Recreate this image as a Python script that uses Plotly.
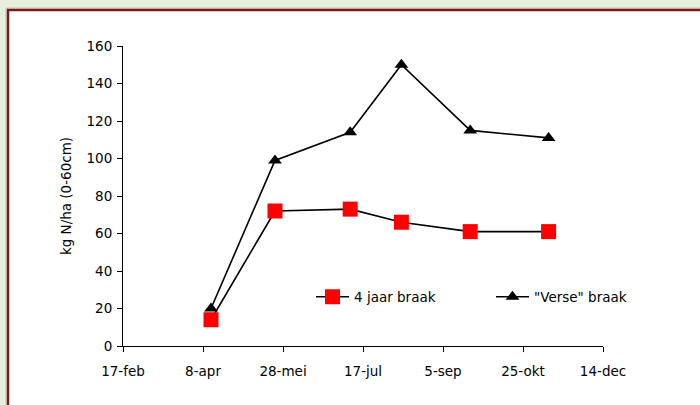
import plotly.graph_objects as go

# Sampling dates (one season) and mineral N in the 0-60 cm layer
sample_dates = ["2001-04-13", "2001-05-23", "2001-07-09", "2001-08-10", "2001-09-22", "2001-11-10"]
n_four_year = [14, 72, 73, 66, 61, 61]
n_fresh = [20, 99, 114, 150, 115, 111]

series_names = ["4 jaar braak", "\"Verse\" braak"]

tick_dates = ["2001-02-17", "2001-04-08", "2001-05-28", "2001-07-17",
              "2001-09-05", "2001-10-25", "2001-12-14"]
tick_labels = ["17-feb", "8-apr", "28-mei", "17-jul", "5-sep", "25-okt", "14-dec"]

FONT = dict(family="DejaVu Sans", size=13.5, color="#000000")

fig = go.Figure()
fig.add_trace(go.Scatter(
    x=sample_dates, y=n_four_year, name=series_names[0], mode="lines+markers",
    line=dict(color="#000000", width=1.6),
    marker=dict(symbol="square", size=15, color="#ff0000", line=dict(width=0)),
))
fig.add_trace(go.Scatter(
    x=sample_dates, y=n_fresh, name=series_names[1], mode="lines+markers",
    line=dict(color="#000000", width=1.6),
    marker=dict(symbol="triangle-up", size=12, color="#000000", line=dict(width=0)),
))

# plot area spans 123..603 px horizontally, 46..346 px vertically
W, H = 700, 405
L, R, T, B = 123, 97, 46, 59
PW, PH = W - L - R, H - T - B


def px_x(p):
    return (p - L) / PW


def px_y(p):
    return (T + PH - p) / PH


fig.add_shape(type="rect", xref="paper", yref="paper",
              x0=px_x(6), x1=px_x(720), y0=px_y(8), y1=px_y(430),
              line=dict(color="#c8c0b8", width=1), fillcolor="rgba(0,0,0,0)", layer="below")
fig.add_shape(type="rect", xref="paper", yref="paper",
              x0=px_x(8), x1=px_x(720), y0=px_y(10), y1=px_y(430),
              line=dict(color="#7a1a1a", width=2.5), fillcolor="#ffffff", layer="below")

fig.update_layout(
    width=W, height=H,
    margin=dict(l=L, r=R, t=T, b=B, pad=0, autoexpand=False),
    paper_bgcolor="#e6f0dc",
    plot_bgcolor="rgba(0,0,0,0)",
    font=FONT,
    showlegend=True,
    legend=dict(
        orientation="h", xref="container", yref="container",
        x=311 / W, xanchor="left", y=(H - 297) / H, yanchor="middle",
        bgcolor="rgba(0,0,0,0)", font=FONT, entrywidth=132, entrywidthmode="pixels",
        itemwidth=33, traceorder="normal",
    ),
    xaxis=dict(
        type="date", range=[tick_dates[0], tick_dates[-1]],
        tickmode="array", tickvals=tick_dates, ticktext=tick_labels,
        showgrid=False, zeroline=False, showline=True, linecolor="#000000", linewidth=1,
        ticks="outside", ticklen=5, tickcolor="#000000", tickwidth=1,
        tickfont=FONT, ticklabelstandoff=8,
    ),
    yaxis=dict(
        range=[0, 160], tickmode="linear", tick0=0, dtick=20,
        showgrid=False, zeroline=False, showline=True, linecolor="#000000", linewidth=1,
        ticks="outside", ticklen=5, tickcolor="#000000", tickwidth=1,
        tickfont=FONT, ticklabelstandoff=2,
        title=dict(text="kg N/ha (0-60cm)", font=FONT, standoff=11),
    ),
)

fig.write_html("out.html", config={"displayModeBar": False})
